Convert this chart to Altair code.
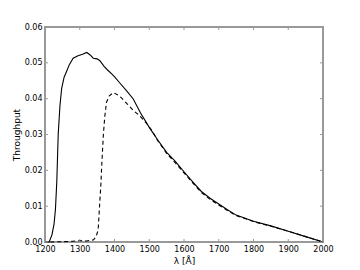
import altair as alt
import pandas as pd

# Solid curve
solid_x = [1200, 1212, 1220, 1226, 1230, 1234, 1238, 1243, 1248, 1255, 1262, 1270, 1281,
           1295, 1308, 1320, 1330, 1339, 1350, 1358, 1370, 1380, 1392, 1401, 1416, 1435,
           1454, 1475, 1500, 1525, 1550, 1575, 1600, 1625, 1650, 1675, 1700, 1725, 1750,
           1800, 1850, 1900, 1950, 2000]
solid_y = [0.0, 0.0, 0.002, 0.005, 0.009, 0.017, 0.030, 0.038, 0.0429, 0.046, 0.0476,
           0.0495, 0.0513, 0.0520, 0.0524, 0.0529, 0.0522, 0.0513, 0.0511, 0.0506, 0.0490,
           0.0480, 0.0469, 0.0460, 0.0443, 0.0422, 0.0399, 0.0360, 0.0320, 0.0284, 0.0250,
           0.0225, 0.0196, 0.0168, 0.0141, 0.0122, 0.0106, 0.0090, 0.0075,
           0.0058, 0.0045, 0.0030, 0.0015, 0.0]

# Dashed curve
dash_x = [1215, 1250, 1280, 1300, 1320, 1340, 1347, 1353, 1358, 1361, 1363, 1368, 1372,
          1377, 1385, 1397, 1410, 1420, 1435, 1455, 1473, 1493, 1507, 1525, 1550, 1575,
          1600, 1625, 1650, 1675, 1700, 1725, 1750, 1800, 1850, 1900, 1950, 2000]
dash_y = [0.0, 0.0001, 0.0002, 0.0004, 0.0003, 0.0006, 0.0015, 0.0034, 0.0117, 0.0164,
          0.0210, 0.0300, 0.0350, 0.0390, 0.0408, 0.0417, 0.0410, 0.0402, 0.0387, 0.0366,
          0.0352, 0.0330, 0.0312, 0.0282, 0.0247, 0.0221, 0.0193, 0.0165, 0.0138, 0.0119,
          0.0103, 0.0088, 0.0074, 0.0057, 0.0044, 0.0030, 0.0015, 0.0]

x_ticks = [1200, 1300, 1400, 1500, 1600, 1700, 1800, 1900, 2000]
y_ticks = [0.0, 0.01, 0.02, 0.03, 0.04, 0.05, 0.06]

W, H = 278, 215
FONT = "DejaVu Sans"
FRAME = "#999999"

xs = alt.Scale(domain=[1200, 2000], nice=False, zero=False)
ys = alt.Scale(domain=[0, 0.06], nice=False)

solid_df = pd.DataFrame({"x": solid_x, "y": solid_y})
dash_df = pd.DataFrame({"x": dash_x, "y": dash_y})
xt_df = pd.DataFrame({"t": x_ticks})
yt_df = pd.DataFrame({"t": y_ticks})

common = dict(grid=False, tickSize=0, ticks=False, domain=False, labelPadding=3,
              titlePadding=3, labelFontSize=8, titleFontSize=9, labelFont=FONT,
              titleFont=FONT, labelColor="black", titleColor="black",
              titleFontWeight="normal", labelOverlap=False, labelFlush=False,
              labelBound=False)
x_axis = alt.Axis(values=x_ticks, format="d", title="λ [Å]", **common)
y_axis = alt.Axis(values=y_ticks, format=".2f", title="Throughput", **common)

solid = alt.Chart(solid_df).mark_line(color="black", strokeWidth=1.1).encode(
    x=alt.X("x:Q", scale=xs, axis=x_axis),
    y=alt.Y("y:Q", scale=ys, axis=y_axis),
)
dashed = alt.Chart(dash_df).mark_line(color="black", strokeWidth=1.1, strokeDash=[4, 3]).encode(
    x=alt.X("x:Q", scale=xs, axis=x_axis),
    y=alt.Y("y:Q", scale=ys, axis=y_axis),
)

tick_len = 3
bottom_ticks = alt.Chart(xt_df).mark_rule(color=FRAME, strokeWidth=1).encode(
    x=alt.X("t:Q", scale=xs, axis=x_axis), y=alt.value(H), y2=alt.value(H - tick_len))
top_ticks = alt.Chart(xt_df).mark_rule(color=FRAME, strokeWidth=1).encode(
    x=alt.X("t:Q", scale=xs, axis=x_axis), y=alt.value(0), y2=alt.value(tick_len))
left_ticks = alt.Chart(yt_df).mark_rule(color=FRAME, strokeWidth=1).encode(
    y=alt.Y("t:Q", scale=ys, axis=y_axis), x=alt.value(0), x2=alt.value(tick_len))
right_ticks = alt.Chart(yt_df).mark_rule(color=FRAME, strokeWidth=1).encode(
    y=alt.Y("t:Q", scale=ys, axis=y_axis), x=alt.value(W), x2=alt.value(W - tick_len))

chart = alt.layer(solid, dashed, bottom_ticks, top_ticks, left_ticks, right_ticks).properties(
    width=W, height=H,
    autosize=alt.AutoSizeParams(type="none"),
    padding={"left": 37, "top": 19, "right": 29, "bottom": 28},
    background="white",
).configure_view(stroke=FRAME, strokeWidth=2)

chart.save("out.html", embed_options={"renderer": "svg", "actions": False})
